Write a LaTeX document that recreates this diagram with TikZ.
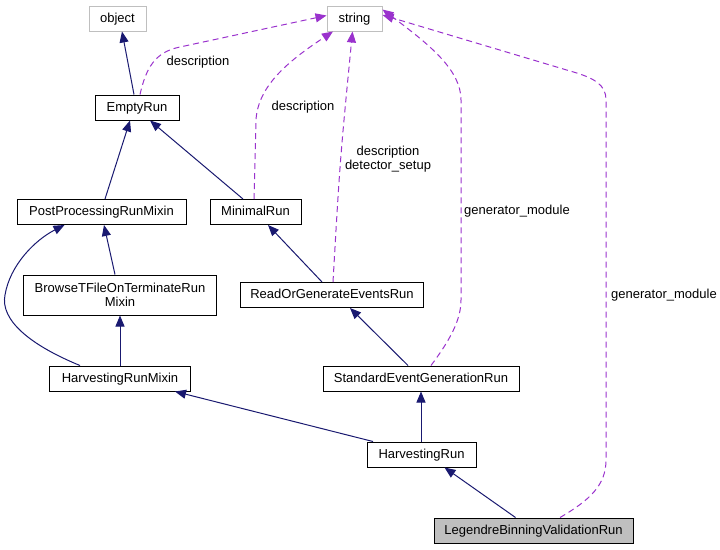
\documentclass[tikz,border=0pt]{standalone}
\usepackage{fontspec}
\setmainfont{Liberation Sans}
\usepackage{tikz}
\usetikzlibrary{arrows.meta,positioning}
\definecolor{inhblue}{HTML}{191970}
\definecolor{usepurple}{HTML}{9A32CD}
\definecolor{extgray}{HTML}{BFBFBF}

\begin{document}
\begin{tikzpicture}[x=1pt,y=-1pt,font=\fontsize{13}{14}\selectfont,
  cls/.style={draw=black,line width=1pt,minimum height=25pt,inner sep=0pt,align=center,
    text height=9.5pt,text depth=2.5pt},
  extcls/.style={draw=extgray,line width=1pt,minimum height=25pt,inner sep=0pt,
    text height=9.5pt,text depth=2.5pt},
  inherit/.style={draw=inhblue,line width=1pt,-{Triangle[length=11pt,width=9pt]}},
  member/.style={draw=usepurple,line width=1pt,dash pattern=on 6pt off 4pt,
    -{Triangle[length=11pt,width=9pt,fill=usepurple]}},
  lbl/.style={inner sep=0pt,align=center}]
\useasboundingbox (0,0) rectangle (720,549);
% classes
\node[extcls,minimum width=57pt] (object) at (117.5,18.5) {object};
\node[extcls,minimum width=55pt] (string) at (354.5,18.5) {string};
\node[cls,minimum width=84pt] (empty) at (137,107.5) {EmptyRun};
\node[cls,minimum width=169pt] (pp) at (101.5,212) {PostProcessingRunMixin};
\node[cls,minimum width=91pt] (minimal) at (255.5,212) {MinimalRun};
\node[cls,text height=,text depth=,minimum width=193pt,minimum height=40pt] (browse) at (120,295) {BrowseTFileOnTerminateRun\\Mixin};
\node[cls,minimum width=183pt] (rog) at (332,295) {ReadOrGenerateEventsRun};
\node[cls,minimum width=141pt] (mixin) at (120,378.5) {HarvestingRunMixin};
\node[cls,minimum width=196pt] (sev) at (421,378.5) {StandardEventGenerationRun};
\node[cls,minimum width=109pt] (hr) at (421.5,454.5) {HarvestingRun};
\node[cls,fill=extgray,minimum width=199pt] (leg) at (533.5,530.5) {LegendreBinningValidationRun};
% inheritance
\draw[inherit] ([xshift=-3pt]empty.north) -- ([xshift=4.5pt]object.south);
\draw[inherit] ([xshift=3.5pt]pp.north) -- ([xshift=-7pt]empty.south);
\draw[inherit] ([xshift=-12.5pt]minimal.north) -- ([xshift=13pt]empty.south);
\draw[inherit] ([xshift=-5pt]browse.north) -- ([xshift=2.5pt]pp.south);
\draw[inherit] ([xshift=-40pt]mixin.north) .. controls (30,345) and (0,320) .. (5,295)
  .. controls (10,265) and (35,240) .. ([xshift=-37pt]pp.south);
\draw[inherit] (mixin.north) -- (browse.south);
\draw[inherit] ([xshift=-10pt]rog.north) -- ([xshift=12.5pt]minimal.south);
\draw[inherit] ([xshift=-13pt]sev.north) -- ([xshift=18pt]rog.south);
\draw[inherit] ([xshift=-48.5pt]hr.north) -- ([xshift=55pt]mixin.south);
\draw[inherit] ([xshift=-0.5pt]hr.north) -- (sev.south);
\draw[inherit] ([xshift=-18pt]leg.north) -- ([xshift=23pt]hr.south);
% members
\draw[member] ([xshift=3pt]empty.north) .. controls (146,68) and (155,52) .. (180,47)
  -- ([yshift=3pt]string.west);
\draw[member] ([xshift=-1.5pt]minimal.north) -- (256,120)
  .. controls (258,85) and (290,60) .. ([xshift=-21.5pt]string.south);
\draw[member] ([xshift=1pt]rog.north) .. controls (340,160) .. ([xshift=-2pt]string.south);
\draw[member] ([xshift=10pt]sev.north) .. controls (450,340) and (461,320) .. (461,300)
  -- (461,100) .. controls (461,70) and (430,45) .. ([yshift=9pt]string.east);
\draw[member] ([xshift=26.5pt]leg.north) .. controls (590,500) and (606,485) .. (606,460)
  -- (606,100) .. controls (606,85) and (595,78) .. (570,71) -- ([yshift=3.5pt]string.east);
% member labels
\node[lbl] (d1) at (198,62) {description};
\node[lbl] (d2) at (303,107) {description};
\node[lbl] (d3) at (388,159) {description\\detector\_setup};
\node[lbl] (g1) at (517,211) {generator\_module};
\node[lbl] (g2) at (664,295) {generator\_module};
\end{tikzpicture}
\end{document}
